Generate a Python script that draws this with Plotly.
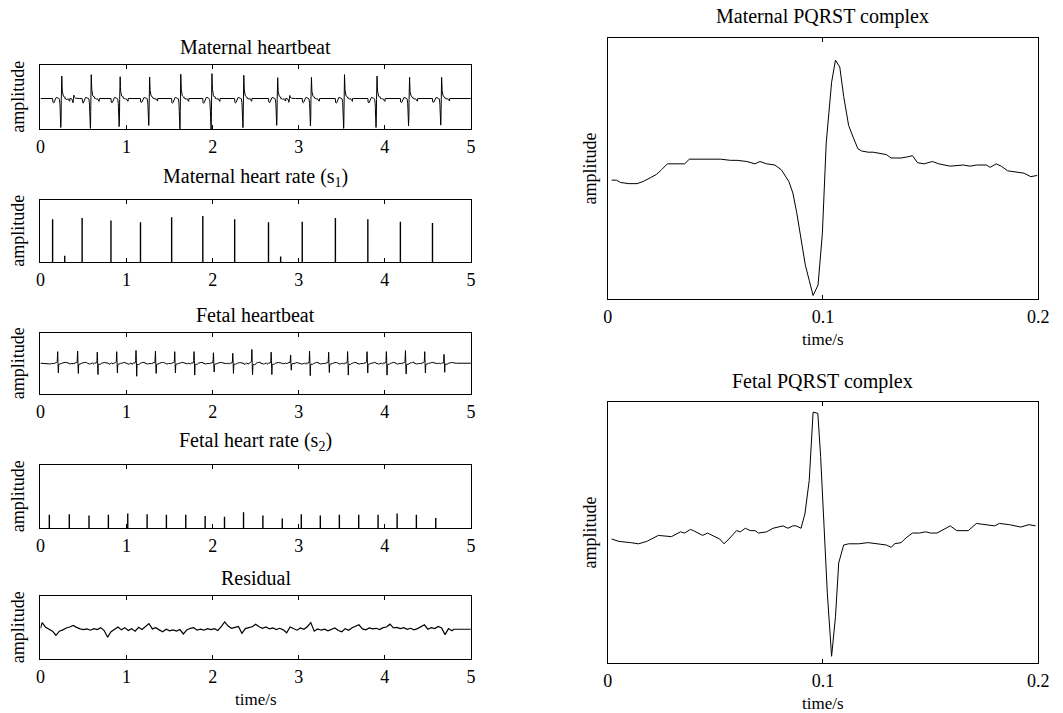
import numpy as np
import plotly.graph_objects as go

# ---------------- data ----------------
# Maternal PQRST complex (time in ms, amplitude a.u.)
mat_t_ms = [1.8, 4.0, 5.9, 9.8, 13.6, 16.6, 19.7, 22.7, 25.0, 27.7, 31.1, 35.7, 37.9, 42.5, 46.3,
            52.4, 57.0, 60.1, 64.6, 68.4, 70.7, 73.8, 77.6, 80.6, 84.1, 86.0, 87.8, 89.8, 91.8,
            93.6, 95.4, 97.7, 99.7, 101.5, 104.0, 105.8, 107.8, 109.6, 111.9, 114.2, 116.2, 118.0,
            121.0, 123.3, 126.4, 129.4, 131.7, 136.3, 139.3, 141.6, 143.9, 147.0, 150.8, 153.8,
            159.1, 165.2, 168.3, 171.3, 175.9, 177.7, 180.5, 182.8, 185.8, 189.6, 193.4, 196.5, 199.5]
mat_amp = [-0.03, -0.03, -0.05, -0.06, -0.06, -0.04, -0.01, 0.02, 0.06, 0.11, 0.11, 0.11, 0.15, 0.15,
           0.15, 0.15, 0.14, 0.14, 0.13, 0.11, 0.13, 0.11, 0.10, 0.06, -0.04, -0.14, -0.31, -0.54,
           -0.76, -0.89, -1.02, -0.93, -0.49, 0.29, 0.81, 1.00, 0.94, 0.69, 0.44, 0.33, 0.24, 0.22,
           0.21, 0.21, 0.20, 0.19, 0.16, 0.16, 0.17, 0.18, 0.12, 0.11, 0.13, 0.11, 0.09, 0.10, 0.09,
           0.10, 0.10, 0.08, 0.11, 0.09, 0.05, 0.04, 0.03, 0.00, 0.01]
mat_base = 0.11

# Fetal PQRST complex (time in ms, amplitude a.u.)
fet_t_ms = [1.8, 5.2, 10.5, 14.3, 18.1, 23.5, 29.6, 33.8, 35.7, 38.4, 39.8, 44.1, 46.3, 49.4, 52.0,
            54.0, 56.3, 59.8, 61.6, 63.9, 66.2, 68.4, 70.0, 73.8, 76.8, 81.4, 83.7, 86.0, 87.5, 89.8,
            91.6, 93.6, 95.4, 97.6, 98.9, 100.5, 102.0, 104.0, 105.8, 107.3, 109.6, 111.9, 116.5,
            121.0, 125.6, 129.4, 131.7, 133.2, 136.3, 138.6, 141.6, 144.7, 147.7, 150.0, 153.0,
            156.1, 159.1, 162.2, 167.5, 171.3, 175.2, 179.7, 182.0, 186.6, 191.9, 195.7, 198.8]
fet_amp = [-0.02, -0.04, -0.05, -0.06, -0.04, 0.01, 0.00, 0.04, 0.03, 0.06, 0.05, 0.01, 0.03, 0.00,
           -0.02, -0.06, -0.02, 0.05, 0.04, 0.07, 0.05, 0.05, 0.03, 0.04, 0.07, 0.09, 0.07, 0.09,
           0.09, 0.07, 0.19, 0.47, 1.04, 1.03, 0.67, 0.08, -0.47, -1.00, -0.67, -0.22, -0.07, -0.06,
           -0.06, -0.05, -0.06, -0.07, -0.09, -0.06, -0.05, -0.01, 0.03, 0.03, 0.04, 0.03, 0.03,
           0.06, 0.09, 0.05, 0.05, 0.11, 0.10, 0.09, 0.11, 0.10, 0.08, 0.10, 0.09]
fet_base = 0.03

# Maternal heart rate s1 (spike times in s, heights)
s1_times = [0.141, 0.282, 0.484, 0.819, 1.162, 1.524, 1.886, 2.256, 2.649, 2.790, 3.041, 3.426,
            3.803, 4.181, 4.554]
s1_amp = [0.69, 0.10, 0.71, 0.67, 0.64, 0.72, 0.74, 0.69, 0.64, 0.09, 0.65, 0.71, 0.69, 0.65, 0.63]

# Fetal heart rate s2
s2_times = [0.103, 0.335, 0.564, 0.789, 1.014, 1.239, 1.463, 1.688, 1.913, 2.138, 2.359, 2.584,
            2.809, 3.030, 3.251, 3.472, 3.697, 3.922, 4.143, 4.367, 4.592]
s2_amp = [0.21, 0.22, 0.20, 0.21, 0.23, 0.22, 0.21, 0.21, 0.19, 0.18, 0.25, 0.20, 0.15, 0.22, 0.20,
          0.21, 0.21, 0.21, 0.23, 0.21, 0.16]

# Residual (sampled every 0.04 s from 0.02 s, first value at 0 s)
res_vals = [0.03, 0.21, 0.06, 0.01, -0.06, -0.19, -0.06, -0.02, 0.04, 0.07, 0.12, 0.06, 0.01, -0.01,
            0.01, -0.03, 0.02, -0.01, 0.05, -0.04, -0.25, -0.08, 0.01, 0.07, -0.02, 0.05, -0.04, 0.02,
            -0.06, 0.06, -0.01, 0.09, 0.18, 0.01, 0.05, -0.02, -0.08, 0.00, -0.05, -0.02, -0.06, -0.01,
            -0.15, -0.02, 0.03, 0.05, -0.03, 0.00, -0.03, 0.02, -0.01, 0.02, -0.04, 0.08, 0.23, 0.10,
            0.03, 0.06, 0.09, -0.13, 0.02, 0.05, 0.08, 0.16, 0.08, 0.03, 0.07, 0.01, 0.04, -0.01, 0.03,
            -0.02, -0.11, 0.07, 0.02, -0.03, 0.04, 0.00, 0.08, 0.21, -0.06, 0.01, -0.03, 0.00, -0.05,
            -0.01, 0.04, -0.04, -0.08, 0.02, -0.03, 0.05, 0.09, 0.14, 0.01, -0.02, 0.04, 0.01, 0.03,
            -0.01, 0.05, 0.07, 0.16, 0.04, 0.06, 0.02, 0.05, 0.00, 0.03, -0.02, 0.02, 0.08, 0.14, 0.00,
            0.05, 0.02, 0.09, 0.04, -0.17, 0.02, -0.05]
res_end = [4.80, 5.0]

left_ticks = [0, 1, 2, 3, 4, 5]
right_ticks = [0, 0.1, 0.2]

# ---------------- derived signals ----------------
t = np.arange(0, 5.0001, 0.002)
mat_t = np.array(mat_t_ms) / 1000.0
fet_t = np.array(fet_t_ms) / 1000.0


def beat_train(times, amps, tpl_t, tpl_a, base):
    sig = np.zeros_like(t)
    for tk, ak in zip(times, amps):
        sig += ak * (np.interp(t - tk, tpl_t, tpl_a, left=base, right=base) - base)
    return sig


mat_sig = beat_train(s1_times, s1_amp, mat_t, mat_amp, mat_base)
fet_sig = beat_train(s2_times, s2_amp, fet_t, fet_amp, fet_base)


def stems(times, amps):
    xs, ys = [], []
    for tk, ak in zip(times, amps):
        xs += [tk, tk, None]
        ys += [0, ak, None]
    return xs, ys


s1x, s1y = stems(s1_times, s1_amp)
s2x, s2y = stems(s2_times, s2_amp)
res_t = [0.0] + [0.02 + 0.04 * k for k in range(len(res_vals) - 1)] + res_end
res_y = res_vals + [0.0, 0.0]

# ---------------- figure ----------------
W, H = 1063, 713
FONT = "Liberation Serif"


def xd(a, b):
    return [a / W, b / W]


def yd(top, bottom):
    return [1 - bottom / H, 1 - top / H]


fig = go.Figure()

traces = [
    (t, mat_sig, 1),
    (s1x, s1y, 2),
    (t, fet_sig, 3),
    (s2x, s2y, 4),
    (res_t, res_y, 5),
    (mat_t, mat_amp, 6),
    (fet_t, fet_amp, 7),
]
for x, y, i in traces:
    w = 1.4 if i in (2, 4) else (1.2 if i == 5 else 1)
    fig.add_trace(go.Scatter(x=x, y=y, mode="lines", line=dict(color="black", width=w),
                             xaxis="x" if i == 1 else f"x{i}", yaxis="y" if i == 1 else f"y{i}",
                             showlegend=False, hoverinfo="skip", connectgaps=False))

left_x = xd(36, 473)
right_x = xd(612, 1049)
panels = {
    1: (left_x, yd(65, 129), [-0.80, 0.88], [0, 5], left_ticks),
    2: (left_x, yd(200, 262), [0, 1], [0, 5], left_ticks),
    3: (left_x, yd(333, 394), [-0.56, 0.55], [0, 5], left_ticks),
    4: (left_x, yd(465, 528), [0, 1], [0, 5], left_ticks),
    5: (left_x, yd(596, 659), [-0.94, 1.05], [0, 5], left_ticks),
    6: (right_x, yd(38, 299), [-1.05, 1.19], [0, 0.2], right_ticks),
    7: (right_x, yd(402, 663), [-1.056, 1.125], [0, 0.2], right_ticks),
}
layout = {}
for i, (xdom, ydom, yr, xr, tv) in panels.items():
    xn = "xaxis" if i == 1 else f"xaxis{i}"
    yn = "yaxis" if i == 1 else f"yaxis{i}"
    layout[xn] = dict(domain=xdom, range=xr, anchor="y" if i == 1 else f"y{i}",
                      showline=True, linecolor="black", linewidth=1, mirror="ticks",
                      ticks="inside", ticklen=4, tickcolor="black", tickwidth=1,
                      tickvals=tv, ticktext=[str(v) for v in tv], showgrid=False, zeroline=False,
                      tickfont=dict(family=FONT, size=18, color="black"), ticklabelstandoff=1)
    layout[yn] = dict(domain=ydom, range=yr, anchor="x" if i == 1 else f"x{i}",
                      showline=True, linecolor="black", linewidth=1, mirror=True,
                      ticks="", showticklabels=False, showgrid=False, zeroline=False)

ann = []


def text(x, y, s, size=20, angle=0):
    ann.append(dict(x=x / W, y=1 - y / H, xref="paper", yref="paper", text=s, showarrow=False,
                    xanchor="center", yanchor="middle", textangle=angle,
                    font=dict(family=FONT, size=size, color="black")))


lc = (36 + 473) / 2
rc = (612 + 1049) / 2
text(lc, 47, "Maternal heartbeat")
text(lc, 177, "Maternal heart rate (s<sub>1</sub>)")
text(lc, 315, "Fetal heartbeat")
text(lc, 441, "Fetal heart rate (s<sub>2</sub>)")
text(lc, 578, "Residual")
text(rc, 16, "Maternal PQRST complex")
text(rc, 381, "Fetal PQRST complex")
text(lc, 699, "time/s", size=17)
text(rc, 339, "time/s", size=17)
text(rc, 703, "time/s", size=17)
for yc in [(65 + 129) / 2, (200 + 262) / 2, (333 + 394) / 2, (465 + 528) / 2, (596 + 659) / 2]:
    text(13, yc, "amplitude", size=18, angle=-90)
text(593, (38 + 299) / 2, "amplitude", size=18, angle=-90)
text(593, (402 + 663) / 2, "amplitude", size=18, angle=-90)

# width follows the page (the window), height fixed
fig.update_layout(autosize=True, height=H, margin=dict(l=0, r=0, t=0, b=0, pad=0),
                  paper_bgcolor="white", plot_bgcolor="white", annotations=ann,
                  font=dict(family=FONT, color="black"), **layout)
fig.write_html(
    "out.html",
    config={"displayModeBar": False, "responsive": True},
    post_script=("document.body.style.margin='0';document.body.style.overflow='hidden';"
                 "var gd=document.getElementById('{plot_id}');Plotly.Plots.resize(gd);"),
)
